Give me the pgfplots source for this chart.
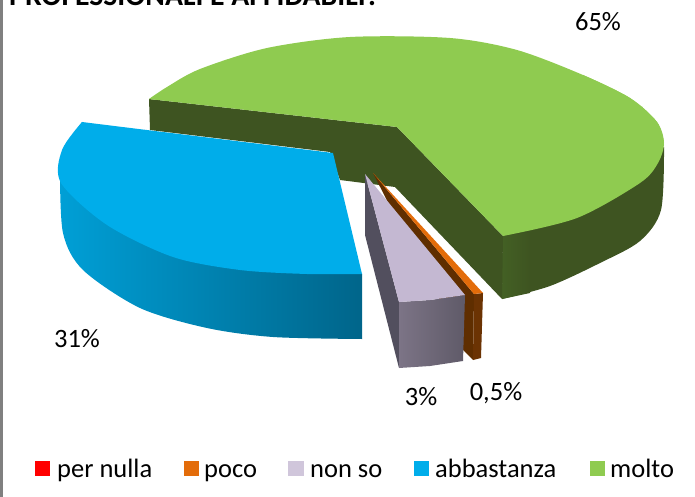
\documentclass[border=0pt]{standalone}
\usepackage{fontspec}
\setmainfont{Carlito}
\usepackage{pgfplots}
\pgfplotsset{compat=1.18}
\definecolor{gtop}{HTML}{8FCB50}
\definecolor{gside}{HTML}{3E5421}
\definecolor{gside2}{HTML}{436024}
\definecolor{btop}{HTML}{00ADEA}
\definecolor{bs1}{HTML}{009FD6}
\definecolor{bs2}{HTML}{00658A}
\definecolor{ltop}{HTML}{C4B8D2}
\definecolor{lwall}{HTML}{524F5E}
\definecolor{ls1}{HTML}{7C7486}
\definecolor{ls2}{HTML}{5F5A68}
\definecolor{otop}{HTML}{E36C0A}
\definecolor{owall}{HTML}{5F2E00}
\definecolor{ofront}{HTML}{6B3303}
\begin{document}
\begin{tikzpicture}
\useasboundingbox (0,0) rectangle (695pt,497pt);
\begin{axis}[at={(0,0)},anchor=south west,scale only axis,width=695pt,height=497pt,
  xmin=0,xmax=695,ymin=0,ymax=497,y dir=reverse,hide axis,clip=false,
  every axis plot/.append style={draw=none,line width=0pt}]
% frame
\addplot[fill=gray] coordinates {(0,0)(2.5,0)(2.5,497)(0,497)} --cycle;
% green outer side: body, rim and lit strip
\addplot[fill=gside] coordinates {(503,236)(664,145)(600,240)(502,299)} --cycle;
\addplot[fill=gside,smooth] coordinates {(664,147)(661,210)(640,241)(600,263)(550,286)(502,299)};
\addplot[left color=gside2,right color=gside] coordinates {(503,236)(530,232)(530,293)(502,299)} --cycle;
% green inner wall
\addplot[fill=gside] coordinates {(149,99)(397,127)(503,236)(502,299)(395,187)(340,180)(330,152)(150,130)} --cycle;
% green top: sector and two overlapping rim pieces
\addplot[fill=gtop] coordinates {(397,127)(149,99)(350,60)(643,107)(503,236)} --cycle;
\addplot[fill=gtop,smooth] coordinates {(149,99)(167,87)(200,69)(267,48)(350,37)(450,38)(517,50)(583,75)(630,98)(657,122)(664,143)};
\addplot[fill=gtop,smooth] coordinates {(583,75)(630,98)(657,122)(664,143)(658,163)(640,183)(577,218)(503,236)};
% blue side: body and rim, same x range so the shading lines up
\addplot[left color=bs1,right color=bs2] coordinates {(60,170)(362,274)(362,339)(200,300)} --cycle;
\addplot[left color=bs1,right color=bs2,smooth] coordinates {(60,170)(63,233)(83,270)(140,308)(207,328)(273,337)(362,339)};
% blue top: sector and rim
\addplot[fill=btop] coordinates {(333,153)(82,122)(59,165)(362,274)} --cycle;
\addplot[fill=btop,smooth] coordinates {(82,122)(62,150)(61,183)(107,225)(173,257)(240,270)(307,274)(362,274)};
% orange
\addplot[fill=owall] coordinates {(373,173)(474,294)(473,360)(463,350)} --cycle;
\addplot[fill=ofront] coordinates {(474,294)(483,293)(481,358)(473,360)} --cycle;
\addplot[fill=otop] coordinates {(373,173)(483,293)(474,294)} --cycle;
% lilac
\addplot[fill=lwall] coordinates {(365,174)(399,302)(399,368)(365,235)} --cycle;
\addplot[left color=ls1,right color=ls2] coordinates {(399,302)(430,300)(465,295)(463,361)(430,366)(399,368)} --cycle;
\addplot[fill=ltop] coordinates {(365,174)(465,295)(430,300)(399,302)} --cycle;
% legend keys
\addplot[fill=red] coordinates {(35,461)(50,461)(50,476)(35,476)} --cycle;
\addplot[fill=otop] coordinates {(184,461)(199,461)(199,476)(184,476)} --cycle;
\addplot[fill=ltop!80!white] coordinates {(288,461)(304,461)(304,476)(288,476)} --cycle;
\addplot[fill=btop] coordinates {(414,461)(429,461)(429,476)(414,476)} --cycle;
\addplot[fill=gtop] coordinates {(590,461)(605,461)(605,476)(590,476)} --cycle;
\def\fs{\fontsize{26.5}{26.5}\selectfont}
\node[anchor=base west,inner sep=0pt,font=\fontsize{29.7}{30}\selectfont\bfseries] at (axis cs:9,6) {PROFESSIONALI E AFFIDABILI?};
\node[anchor=base,inner sep=0pt,font=\fs] at (axis cs:598,31) {65\%};
\node[anchor=base,inner sep=0pt,font=\fs] at (axis cs:77,347) {31\%};
\node[anchor=base,inner sep=0pt,font=\fs] at (axis cs:421,405) {3\%};
\node[anchor=base,inner sep=0pt,font=\fs] at (axis cs:496,400) {0,5\%};
\node[anchor=base west,inner sep=0pt,font=\fs] at (axis cs:57,477) {per nulla};
\node[anchor=base west,inner sep=0pt,font=\fs] at (axis cs:204,477) {poco};
\node[anchor=base west,inner sep=0pt,font=\fs] at (axis cs:310,477) {non so};
\node[anchor=base west,inner sep=0pt,font=\fs] at (axis cs:435,477) {abbastanza};
\node[anchor=base west,inner sep=0pt,font=\fs] at (axis cs:610,477) {molto};
\end{axis}
\end{tikzpicture}
\end{document}
